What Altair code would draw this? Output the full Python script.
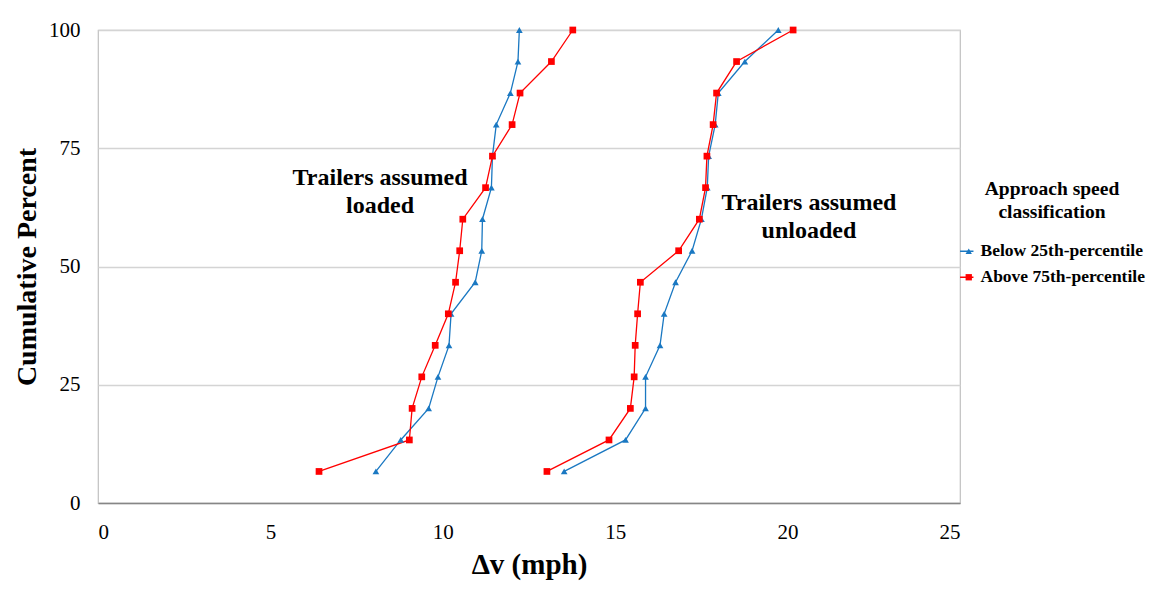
import altair as alt
import pandas as pd

pct = [6.67, 13.33, 20.0, 26.67, 33.33, 40.0, 46.67, 53.33, 60.0, 66.67, 73.33, 80.0, 86.67, 93.33, 100.0]
loaded_below = [8.06, 8.78, 9.59, 9.86, 10.18, 10.24, 10.94, 11.13, 11.15, 11.41, 11.44, 11.55, 11.96, 12.18, 12.22]
loaded_above = [6.41, 9.03, 9.11, 9.39, 9.78, 10.16, 10.37, 10.49, 10.58, 11.24, 11.44, 12.01, 12.24, 13.15, 13.77]
unloaded_below = [13.52, 15.30, 15.88, 15.88, 16.30, 16.42, 16.75, 17.23, 17.50, 17.67, 17.71, 17.90, 17.99, 18.76, 19.73]
unloaded_above = [13.02, 14.82, 15.44, 15.55, 15.58, 15.65, 15.73, 16.84, 17.44, 17.62, 17.66, 17.84, 17.94, 18.52, 20.16]

classes = ["Below 25th-percentile", "Above 75th-percentile"]
colors = ["#1a78c2", "#ff0000"]
shapes = ["triangle-up", "square"]

annot_text = [["Trailers assumed", "loaded"], ["Trailers assumed", "unloaded"]]
annot_x = [8.18, 20.62]
annot_y = [68.7, 63.4]

rows = []
for cond, cls, vals in [
    ("loaded", classes[0], loaded_below),
    ("loaded", classes[1], loaded_above),
    ("unloaded", classes[0], unloaded_below),
    ("unloaded", classes[1], unloaded_above),
]:
    for p, v in zip(pct, vals):
        rows.append({"cond": cond, "cls": cls, "dv": v, "pct": p, "grp": cond + cls})
df = pd.DataFrame(rows)
ann = pd.DataFrame({"x": annot_x, "y": annot_y, "t": annot_text})

FONT = "Liberation Serif"

xenc = alt.X("dv:Q", scale=alt.Scale(domain=[0, 25], nice=False),
             axis=alt.Axis(values=[0, 5, 10, 15, 20, 25], grid=False, ticks=False,
                           domainColor="#868686", domainWidth=1.3, labelFontSize=21,
                           labelPadding=18, title="Δv (mph)", titleFontSize=29,
                           titleFontWeight="bold", titlePadding=8))
yenc = alt.Y("pct:Q", scale=alt.Scale(domain=[0, 100], nice=False),
             axis=alt.Axis(values=[0, 25, 50, 75, 100], grid=True, gridColor="#d4d4d4",
                           gridWidth=1.3, domain=False, ticks=False, labelFontSize=21,
                           labelPadding=18, title="Cumulative Percent", titleFontSize=28,
                           titleFontWeight="bold", titlePadding=7))

cscale = alt.Scale(domain=classes, range=colors)
legend_common = dict(orient="none", legendY=150,
                     title=["Approach speed", "classification"],
                     titleFontSize=19.5, titleFontWeight="bold", titleAnchor="middle",
                     titleAlign="center", titleLineHeight=23, titlePadding=20,
                     labelFontSize=17.5, labelFontWeight="bold", rowPadding=7,
                     labelOffset=3, labelLimit=400, titleLimit=400)

base = alt.Chart(df)

lines = base.mark_line(strokeWidth=1.3).encode(
    x=xenc, y=yenc,
    color=alt.Color("cls:N", scale=cscale,
                    legend=alt.Legend(symbolType="stroke", symbolSize=180, symbolStrokeWidth=1.5,
                                      labelColor="transparent", titleColor="transparent",
                                      legendX=860, **legend_common)),
    detail="grp:N",
    order="pct:Q",
)

points = base.mark_point(filled=True, opacity=1, size=45).encode(
    x=xenc, y=yenc,
    color=alt.Color("cls:N", scale=cscale,
                    legend=alt.Legend(symbolSize=40, legendX=862, **legend_common)),
    shape=alt.Shape("cls:N", scale=alt.Scale(domain=classes, range=shapes),
                    legend=alt.Legend(symbolSize=40, legendX=862, **legend_common)),
)

text = alt.Chart(ann).mark_text(font=FONT, fontSize=24, fontWeight="bold", lineHeight=28,
                                align="center", baseline="middle", color="black").encode(
    x=alt.X("x:Q"), y=alt.Y("y:Q"), text="t"
)

chart = alt.layer(lines, points, text).resolve_legend(
    color="independent", shape="independent"
).properties(
    width=862, height=473,
    autosize=alt.AutoSizeParams(type="none"),
    padding={"left": 90, "top": 22, "right": 192, "bottom": 81},
).configure(font=FONT).configure_axis(
    labelColor="black", titleColor="black", labelFont=FONT, titleFont=FONT
).configure_legend(
    labelFont=FONT, titleFont=FONT, labelColor="black", titleColor="black"
).configure_view(stroke="#c0c0c0", strokeWidth=1.2)

chart.save("out.html", embed_options={"renderer": "svg", "actions": False})
